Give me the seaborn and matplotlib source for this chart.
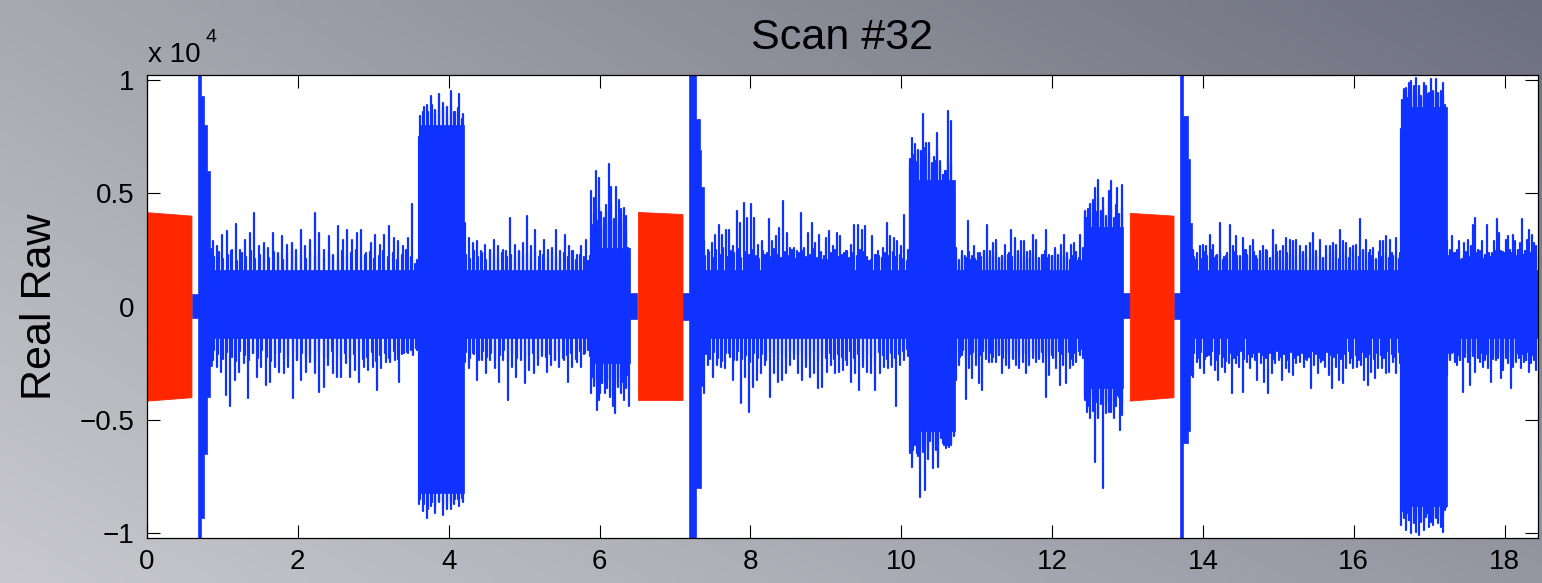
import numpy as np
import pandas as pd
import matplotlib
matplotlib.use("Agg")
import matplotlib.pyplot as plt
import seaborn as sns
from matplotlib.ticker import FixedLocator, FixedFormatter

# ---------------- data (raw counts) ----------------
title_text = "Scan #32"
ylabel_text = "Real Raw"
xtick_vals = [0, 2, 4, 6, 8, 10, 12, 14, 16, 18]
xtick_labels = ["0", "2", "4", "6", "8", "10", "12", "14", "16", "18"]
ytick_vals = [-10000, -5000, 0, 5000, 10000]
ytick_labels = ["\u22121", "\u22120.5", "0", "0.5", "1"]
x_max = 18.44
y_lim = 10200

# red chirp blocks
red_start = [0.0, 6.51, 13.03]
red_end = [0.59, 7.10, 13.61]
red_top_start = [4170, 4180, 4140]
red_top_end = [4020, 4090, 4020]
red_bot_start = [-4140, -4110, -4140]
red_bot_end = [-3990, -4110, -3990]

# blue signal: dense core envelope (step breakpoints)
env_x = [0.60, 0.675, 0.72, 0.76, 0.80, 0.83, 0.86, 3.59, 3.61, 4.20,
         5.88, 6.40, 6.50, 7.10, 7.19, 7.28, 7.33, 7.35, 7.38,
         10.10, 10.71, 12.42, 12.94, 13.03, 13.61, 13.69, 13.74, 13.80, 13.83, 13.86,
         16.62, 16.66, 17.23, 18.44]
env_hi = [550, 10300, 9300, 8000, 6000, 2600, 1600, 7500, 8000, 1600,
          2600, 600, 0, 600, 10300, 8300, 6900, 5300, 1600,
          5600, 1600, 3500, 600, 0, 600, 10300, 8400, 6500, 3700, 1600,
          7800, 8800, 1600, 1600]
env_lo = [-500, -10300, -9300, -6500, -4000, -2600, -1400, -8000, -8200, -1400,
          -2500, -550, 0, -600, -10300, -8000, -8000, -3500, -1400,
          -5500, -1400, -3600, -500, 0, -550, -10300, -6000, -5500, -3000, -1400,
          -8700, -8800, -1400, -1400]

# blue signal: stretches and their peaks (tall peaks and the finer fringe)
seg_start = [0.86, 3.60, 4.20, 5.88, 7.38, 10.10, 10.71, 12.42, 13.86, 16.62, 17.23]
seg_end = [3.59, 4.20, 5.88, 6.40, 10.10, 10.71, 12.42, 12.94, 16.62, 17.23, 18.43]

peaks_up = [
    [2890, 2670, 3180, 3330, 2450, 3670, 2520, 2960, 3260, 4140, 2670, 2810, 2590, 3260, 2370,
     3110, 2740, 2810, 2520, 3400, 2670, 2960, 4140, 3260, 2520, 3110, 2220, 3550, 2960, 3400,
     2960, 3260, 3400, 2370, 2810, 3180, 2740, 3180, 3550, 3030, 2890, 2670, 3030, 4510, 2080],
    [7500, 8600, 8900, 9300, 8700, 9400, 9000, 8800, 9500, 8600, 9400, 8500],
    [3700, 3030, 2810, 2890, 2450, 2740, 2520, 2960, 2670, 2370, 2450, 3920, 2740, 2450, 2810,
     4020, 2670, 3400, 2450, 2960, 2520, 2590, 3400, 2450, 3180, 2670, 2450, 2300, 2670, 2960, 2220],
    [5100, 4800, 6000, 5700, 4200, 3550, 4500, 6300, 5300, 3850, 5300, 4700, 4100, 4350, 4000, 2200],
    [2890, 2520, 2810, 3180, 3620, 3180, 3400, 3400, 2670, 4210, 3700, 4580, 3920, 4510, 3920,
     2740, 2890, 2300, 3850, 2890, 3110, 3480, 4650, 3260, 2590, 2590, 2450, 4140, 2590, 3260,
     3700, 2810, 3180, 2080, 3030, 3330, 2670, 3260, 3110, 2370, 2450, 2740, 3620, 3620, 3400,
     3550, 2000, 3110, 2300, 2220, 2590, 3700, 3110, 3030, 2890, 2670, 4060, 2520],
    [6500, 7450, 7160, 6860, 6860, 8480, 7230, 7230, 6350, 6420, 7670, 6420, 5830, 5980, 8630,
     8190, 5100],
    [2590, 1780, 2440, 2220, 3770, 2080, 2670, 2000, 2370, 2440, 3620, 2440, 2810, 2960, 2000,
     2220, 2740, 2300, 3400, 3030, 2440, 2890, 2890, 2150, 2440, 3180, 2960, 2150, 2300, 3400,
     2300, 2220, 2590, 2300, 2740, 3180, 2220, 2740, 2810, 2000, 3180, 2590],
    [4210, 3920, 4510, 4730, 5240, 5610, 4210, 4800, 3840, 5100, 5540, 3480, 5240, 3330, 5390],
    [2520, 2080, 2670, 2740, 2670, 3180, 2740, 2220, 3700, 2080, 2220, 3620, 2670, 3110, 2220,
     3030, 2520, 2670, 2960, 2220, 2450, 2670, 2520, 2080, 3400, 2740, 2450, 2670, 3030, 2960,
     2890, 2960, 2670, 2370, 2670, 2810, 3260, 2220, 2960, 2080, 2670, 2670, 2810, 2740, 3400,
     2890, 2810, 2590, 2670, 2740, 3850, 2520, 2960, 2520, 2590, 2100, 2890, 2890, 3110, 2960,
     2220, 3030, 2370],
    [7820, 9590, 9660, 9880, 9960, 9740, 10100, 9740, 9290, 9880, 9740, 9440, 10030, 9440, 10030,
     9440, 9520, 9880, 8560],
    [2890, 2520, 3110, 2370, 2520, 2890, 2080, 2810, 2370, 2960, 2670, 3620, 3920, 2520, 2220,
     2890, 2220, 3620, 2370, 2220, 2890, 3850, 3260, 2450, 2370, 2960, 3110, 2370, 3180, 2890,
     2520, 2810, 3850, 2450, 2960, 3400, 3180, 2810, 2670],
]

peaks_dn = [
    [-2340, -2640, -2860, -3890, -4400, -3230, -2860, -2490, -4040, -2050, -3080, -2640, -3450,
     -3300, -2640, -2860, -2930, -2640, -4040, -2340, -3230, -2860, -2420, -2930, -3740, -3520,
     -2560, -2930, -3080, -3080, -2490, -3080, -2780, -3300, -2640, -2780, -2640, -3670, -2710,
     -2420, -2420, -2340, -3300, -2050, -2050, -2120, -1900],
    [-8700, -9000, -9300, -8800, -9100, -8600, -9200, -8700, -8900, -8500, -8800, -8600],
    [-2420, -2710, -2050, -3230, -2340, -2930, -2340, -2710, -3300, -2340, -4110, -2640, -3080,
     -2340, -3370, -2780, -2930, -2560, -2190, -2860, -2560, -2340, -2640, -2340, -3300, -2640,
     -2420, -2640, -2050, -2190],
    [-3820, -3230, -4550, -4110, -3370, -3820, -3300, -3960, -4400, -4700, -3520, -3820, -4110,
     -3520, -4400],
    [-3820, -2560, -3080, -2560, -2640, -2710, -2050, -3230, -2340, -4260, -3080, -4630, -3520,
     -3230, -2930, -2560, -3960, -2930, -3300, -3230, -2930, -2560, -2050, -2930, -3230, -2640,
     -3080, -2930, -3590, -3520, -2860, -2560, -2930, -2860, -2780, -2560, -3300, -2930, -3670,
     -2640, -2860, -2930, -3670, -2930, -2640, -2710, -2640, -4400, -2560, -2340, -2190],
    [-6470, -7060, -5950, -6470, -8380, -6250, -8090, -6320, -5660, -7130, -6320, -7060, -5360,
     -6100, -6250, -6170, -6100, -5510],
    [-3230, -2560, -2120, -4050, -2700, -3150, -2560, -3370, -3670, -1970, -2420, -2420, -2420,
     -2120, -2930, -2560, -2700, -2270, -2560, -2700, -2420, -2930, -2560, -2270, -2420, -2270,
     -2420, -3960, -3000, -2270, -2700, -3450, -2560, -3370, -2700, -2560, -2420, -2120, -2270],
    [-3890, -4630, -4920, -3890, -6830, -4770, -3590, -8010, -4330, -4630, -4630, -4920, -3890,
     -5440, -4770],
    [-3080, -2420, -2710, -2930, -2190, -2560, -2780, -3230, -2640, -2860, -2490, -3820, -2490,
     -2640, -3740, -2420, -2710, -2050, -3230, -2490, -3300, -3820, -2930, -2490, -2340, -3230,
     -2710, -2860, -3000, -2490, -2420, -2640, -2340, -3590, -2560, -2930, -2420, -2640, -3000,
     -3590, -2640, -3230, -3370, -2710, -2490, -2710, -2640, -2560, -3230, -3450, -2860, -3150,
     -2710, -2710, -2930, -2860, -2420, -2930, -2490],
    [-9630, -9190, -9850, -9410, -10000, -9560, -9930, -10080, -9490, -9850, -9270, -9710, -9490,
     -9630, -9270, -9560, -9710, -9930, -8820],
    [-3000, -2340, -2050, -2420, -2560, -2340, -3740, -2050, -2420, -3450, -2190, -2860, -2270,
     -2420, -2640, -2340, -2710, -3300, -2190, -2340, -2050, -3150, -2780, -2270, -2490, -3590,
     -2640, -2420, -2270, -2710, -2420, -2340, -2860, -2490, -2340, -2780],
]

fringe_up = [
    [2200, 2400, 2100, 2300, 2500, 2000, 2350, 2200, 2450, 2100, 2300, 2550, 2150, 2400, 2250,
     2050, 2350, 2500, 2200, 2300, 2100, 2450, 2250, 2350, 2150, 2400, 2300, 2050, 2450, 2200,
     2350, 2500, 2150, 2300, 2400, 2100, 2250, 2450, 2200, 2350, 2050, 2300, 2500, 2200, 1900],
    [8400, 8800, 8600, 8900, 8500, 8700, 8800, 8450, 8900, 8600, 8750, 8300],
    [2300, 2100, 2450, 2200, 2350, 2050, 2400, 2250, 2150, 2500, 2200, 2300, 2100, 2400, 2250,
     2350, 2050, 2450, 2200, 2300, 2150, 2400, 2250, 2100, 2350, 2200, 2450, 2050, 2300, 2200, 2000],
    [3600, 4100, 3800, 4400, 3500, 3900, 4200, 3700, 4500, 3800, 4000, 3600, 4300, 3700, 3400, 2600],
    [2250, 2400, 2150, 2500, 2300, 2600, 2200, 2450, 2350, 2550, 2150, 2400, 2300, 2500, 2250,
     2100, 2450, 2350, 2200, 2550, 2300, 2150, 2400, 2250, 2500, 2100, 2350, 2450, 2200, 2300,
     2550, 2150, 2400, 2250, 2050, 2350, 2500, 2200, 2300, 2450, 2150, 2350, 2250, 2500, 2400,
     2200, 2050, 2300, 2450, 2150, 2350, 2250, 2400, 2200, 2300, 2100, 2000],
    [6200, 6700, 6400, 6900, 6300, 7000, 6500, 6800, 6100, 6600, 6900, 6200, 5800, 6000, 6500,
     6300, 5500],
    [2200, 2050, 2300, 2150, 2400, 2250, 2100, 2350, 2200, 2450, 2050, 2300, 2200, 2400, 2150,
     2250, 2050, 2350, 2200, 2450, 2300, 2100, 2250, 2400, 2150, 2350, 2200, 2050, 2300, 2450,
     2150, 2250, 2400, 2100, 2300, 2200, 2350, 2050, 2250, 2400, 2150, 2000],
    [4000, 4300, 3900, 4600, 4200, 4800, 4100, 4400, 4000, 4700, 4300, 3900, 4500, 4100, 4400],
    [2200, 2350, 2100, 2400, 2250, 2500, 2150, 2300, 2450, 2200, 2350, 2050, 2400, 2250, 2150,
     2500, 2300, 2200, 2400, 2100, 2350, 2250, 2450, 2150, 2300, 2400, 2200, 2050, 2350, 2250,
     2500, 2150, 2300, 2400, 2200, 2100, 2350, 2450, 2250, 2150, 2300, 2400, 2200, 2500, 2100,
     2350, 2250, 2150, 2400, 2300, 2200, 2450, 2100, 2350, 2250, 2050, 2400, 2200, 2300, 2150,
     2350, 2250, 2100],
    [9100, 9400, 9200, 9500, 9300, 9600, 9250, 9450, 9150, 9550, 9300, 9400, 9200, 9500, 9350,
     9250, 9450, 9300, 8900],
    [2250, 2400, 2150, 2350, 2200, 2450, 2100, 2300, 2400, 2200, 2500, 2150, 2350, 2250, 2450,
     2100, 2300, 2400, 2200, 2350, 2150, 2450, 2250, 2100, 2400, 2300, 2200, 2500, 2150, 2350,
     2250, 2400, 2200, 2300, 2450, 2150, 2350, 2250, 2200],
]

fringe_dn = [
    [-1900, -2100, -2300, -2000, -2200, -2400, -1950, -2150, -2350, -2050, -2250, -1900, -2200,
     -2400, -2100, -2000, -2300, -2150, -1950, -2350, -2050, -2250, -2100, -2400, -2000, -2200,
     -2300, -1950, -2150, -2350, -2050, -2250, -2100, -1900, -2300, -2200, -2000, -2400, -2150,
     -2050, -2250, -1950, -2300, -2100, -2000, -1900, -1800],
    [-8500, -8700, -8900, -8600, -8800, -8550, -8750, -8900, -8600, -8700, -8500, -8450],
    [-2000, -2250, -2100, -2350, -1950, -2200, -2050, -2300, -2150, -1900, -2400, -2100, -2250,
     -2000, -2350, -2150, -2050, -2300, -1950, -2200, -2100, -2350, -2000, -2250, -2150, -2050,
     -2300, -1950, -2100, -1900],
    [-3100, -3500, -3300, -3800, -3000, -3400, -3600, -3200, -3700, -3400, -3100, -3500, -3300,
     -3600, -3000],
    [-2100, -2300, -2000, -2250, -2400, -2050, -2200, -2350, -1950, -2300, -2150, -2450, -2050,
     -2250, -2100, -2350, -2000, -2200, -2400, -2100, -2250, -1950, -2300, -2150, -2050, -2350,
     -2200, -2000, -2400, -2150, -2250, -2050, -2300, -2100, -2200, -2350, -1950, -2250, -2100,
     -2300, -2050, -2200, -2400, -2000, -2150, -2300, -2050, -2250, -2100, -1950, -1850],
    [-5900, -6300, -6100, -6600, -6000, -6400, -6200, -6700, -5900, -6300, -6100, -6500, -5800,
     -6000, -6200, -6100, -5900, -5700],
    [-2000, -2200, -1900, -2300, -2100, -2000, -2250, -2150, -1950, -2300, -2050, -2200, -1900,
     -2150, -2250, -2000, -2100, -2300, -1950, -2200, -2050, -2150, -2250, -1900, -2100, -2300,
     -2000, -2200, -2050, -2150, -2250, -1950, -2100, -2200, -2000, -2300, -2050, -1950, -1850],
    [-4100, -4400, -4000, -4600, -4200, -4900, -4300, -4000, -4700, -4200, -4500, -4100, -4400,
     -4000, -4300],
    [-2050, -2250, -2000, -2300, -2150, -1950, -2350, -2100, -2200, -2400, -2050, -2250, -2150,
     -1950, -2300, -2100, -2200, -2350, -2000, -2150, -2250, -2050, -2300, -1950, -2200, -2100,
     -2350, -2000, -2250, -2150, -2050, -2300, -2200, -1950, -2100, -2250, -2350, -2000, -2150,
     -2200, -2050, -2300, -2100, -1950, -2250, -2150, -2350, -2000, -2200, -2100, -2300, -2050,
     -2150, -2250, -1950, -2100, -2200, -2000],
    [-9000, -9300, -9100, -9400, -9200, -9500, -9150, -9350, -9050, -9450, -9250, -9100, -9400,
     -9200, -9300, -9150, -9400, -9250, -8950],
    [-2050, -2250, -2000, -2300, -2150, -2350, -2000, -2200, -2100, -2300, -1950, -2250, -2150,
     -2050, -2350, -2100, -2200, -2000, -2300, -2150, -2250, -2050, -2350, -2100, -2200, -1950,
     -2300, -2150, -2050, -2250, -2100, -2350, -2000, -2200, -2150, -2250],
]

# ---------------- style ----------------
BLUE = "#1032ff"
RED = "#ff2600"

sns.set_style("ticks")
plt.rcParams['font.family'] = ['Liberation Sans', 'DejaVu Sans']
plt.rcParams['axes.unicode_minus'] = True

fig = plt.figure(figsize=(15.42, 5.83), dpi=100)

# gradient background
bg = fig.add_axes([0, 0, 1, 1], zorder=0)
nx, ny = 200, 80
u = np.linspace(0, 1, nx)[None, :, None]
v = np.linspace(0, 1, ny)[:, None, None]
TL = np.array([168, 168, 176]) / 255
TR = np.array([108, 111, 126]) / 255
BL = np.array([200, 200, 206]) / 255
BR = np.array([150, 150, 162]) / 255
img = TL * (1 - u) * (1 - v) + TR * u * (1 - v) + BL * (1 - u) * v + BR * u * v
bg.imshow(img, aspect='auto', extent=[0, 1, 0, 1], interpolation='bilinear')
bg.set_axis_off()

ax = fig.add_axes([0.0953, 0.0772, 0.902, 0.7933], zorder=1)
ax.set_facecolor("white")

# blue core band
ax.fill_between(env_x, env_hi, env_lo, step='post', facecolor=BLUE, edgecolor=BLUE,
                lw=0.5, zorder=2)

# blue peaks as vertical strokes from zero
rows = []
uid = 0
for k in range(len(seg_start)):
    s, e = seg_start[k], seg_end[k]
    groups = []
    for vals in (peaks_up[k], peaks_dn[k]):
        groups.append((np.linspace(s + 0.01, e - 0.01, len(vals)), vals))
    for vals in (fringe_up[k], fringe_dn[k]):
        n = len(vals)
        groups.append((s + (np.arange(n) + 0.5) * (e - s) / n, vals))
    for xs, vals in groups:
        for xv, yv in zip(xs, vals):
            rows.append((xv, 0.0, uid))
            rows.append((xv, float(yv), uid))
            uid += 1
spikes = pd.DataFrame(rows, columns=["t", "amp", "unit"])
sns.lineplot(data=spikes, x="t", y="amp", units="unit", estimator=None, sort=False,
             color=BLUE, linewidth=1.6, ax=ax, legend=False, zorder=3)

# red blocks
for s, e, ts, te, bs, be in zip(red_start, red_end, red_top_start, red_top_end,
                                red_bot_start, red_bot_end):
    ax.fill_between([s, e], [ts, te], [bs, be], color=RED, lw=0.6, edgecolor=RED, zorder=4)

ax.set_xlim(0, x_max)
ax.set_ylim(-y_lim, y_lim)
ax.xaxis.set_major_locator(FixedLocator(xtick_vals))
ax.xaxis.set_major_formatter(FixedFormatter(xtick_labels))
ax.yaxis.set_major_locator(FixedLocator(ytick_vals))
ax.yaxis.set_major_formatter(FixedFormatter(ytick_labels))
ax.tick_params(direction='in', length=9.5, width=0.8, colors='black', labelsize=20,
               top=True, right=True)
ax.tick_params(axis='x', pad=8)
ax.tick_params(axis='y', pad=9)
for sp in ax.spines.values():
    sp.set_visible(True)
    sp.set_color('black')
    sp.set_linewidth(0.9)
    sp.set_zorder(10)

ax.set_xlabel("")
ax.set_ylabel(ylabel_text, fontsize=31, labelpad=14, color='black')
ax.set_title(title_text, fontsize=31, pad=19, color='black')

fig.text(148 / 1542, 1 - 62 / 583, "x 10", fontsize=20, va='baseline', ha='left', color='black')
fig.text(205 / 1542, 1 - 42 / 583, "4", fontsize=14, va='baseline', ha='left', color='black')

fig.savefig("out.png", dpi=100)
